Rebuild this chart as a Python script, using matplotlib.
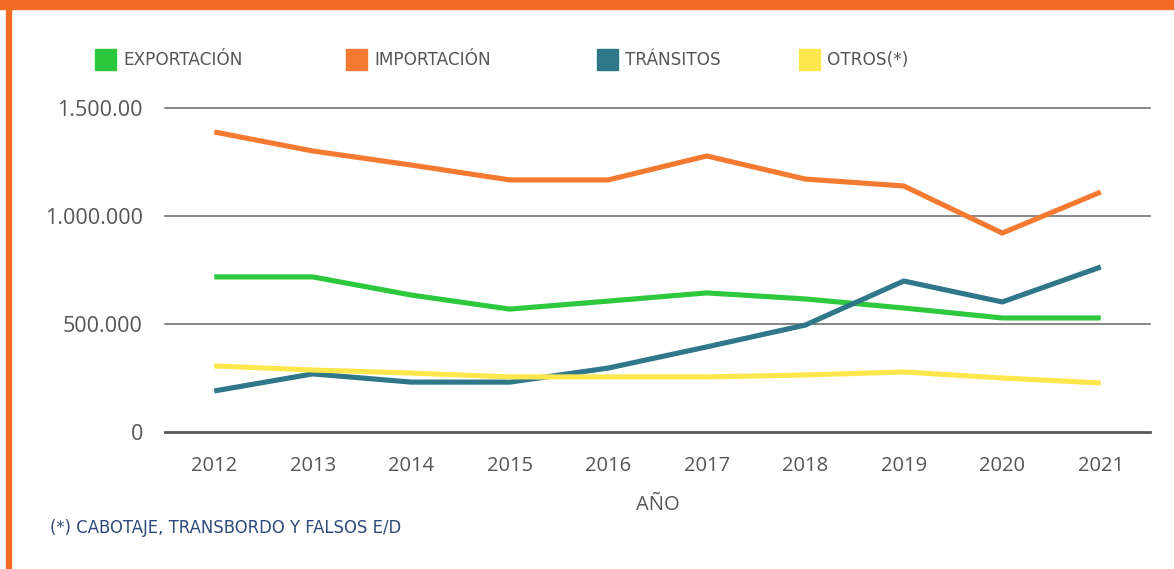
import matplotlib.pyplot as plt
from matplotlib.patches import Rectangle
from matplotlib.ticker import FixedLocator, FixedFormatter

plt.rcParams['font.family'] = ['Open Sans', 'DejaVu Sans']

years = ['2012', '2013', '2014', '2015', '2016', '2017', '2018', '2019', '2020', '2021']
exportacion = [718000, 718000, 634000, 569000, 606000, 644000, 616000, 574000, 528000, 528000]
importacion = [1389000, 1301000, 1236000, 1167000, 1167000, 1278000, 1171000, 1139000, 921000, 1111000]
transitos = [190000, 269000, 231000, 231000, 296000, 394000, 495000, 699000, 602000, 764000]
otros = [306000, 287000, 273000, 255000, 255000, 255000, 264000, 278000, 250000, 227000]

series_names = ['EXPORTACIÓN', 'IMPORTACIÓN', 'TRÁNSITOS', 'OTROS(*)']
colors = ['#2ec83f', '#f57a31', '#2e7889', '#fde74c']
ytick_vals = [0, 500000, 1000000, 1500000]
ytick_labels = ['0', '500.000', '1.000.000', '1.500.00']

W, H = 1174, 569
fig = plt.figure(figsize=(W / 100, H / 100), dpi=100)

# frame: orange banner on top and bar on the left
fig.patches.append(Rectangle((0, 1 - 9 / H), 1, 9 / H, transform=fig.transFigure,
                             color='#f36c25', zorder=0))
fig.patches.append(Rectangle((6 / W, 0), 5 / W, 1 - 9 / H, transform=fig.transFigure,
                             color='#f36c25', zorder=0))

ax = fig.add_axes([165 / W, 1 - 432 / H, (1150 - 165) / W, (432 - 108) / H])
x = list(range(len(years)))
for vals, c in zip([exportacion, importacion, transitos, otros], colors):
    ax.plot(x, vals, color=c, lw=3.7, solid_capstyle='butt', zorder=3)

ax.set_xlim(-0.5, len(years) - 0.5)
ax.set_ylim(0, 1500000)
ax.yaxis.set_major_locator(FixedLocator(ytick_vals))
ax.yaxis.set_major_formatter(FixedFormatter(ytick_labels))
ax.set_xticks(x)
ax.set_xticklabels(years)
ax.tick_params(length=0, labelsize=14.5, labelcolor='#555555')
ax.tick_params(axis='y', pad=16)
ax.tick_params(axis='x', pad=17)
for lbl in ax.get_yticklabels():
    lbl.set_fontsize(15.5)
for v in ytick_vals[1:]:
    ax.axhline(v, color='#666666', lw=1.1, zorder=1, clip_on=False)
ax.axhline(0, color='#5a5a5a', lw=2, zorder=1, clip_on=False)
for s in ax.spines.values():
    s.set_visible(False)

ax.set_xlabel('AÑO', fontsize=14.5, color='#555555', labelpad=14)

# legend drawn along the top
leg_x = [95, 346, 597, 799]
for lx, name, c in zip(leg_x, series_names, colors):
    fig.patches.append(Rectangle((lx / W, 1 - 70 / H), 21 / W, 21 / H,
                                 transform=fig.transFigure, color=c))
    fig.text((lx + 28) / W, 1 - 60 / H, name, fontsize=12.2, color='#555555',
             va='center', ha='left', family='DejaVu Sans')

fig.text(50 / W, 1 - 528 / H, '(*) CABOTAJE, TRANSBORDO Y FALSOS E/D', fontsize=11.9,
         color='#2d4a7c', va='center', ha='left', family='DejaVu Sans')

fig.savefig('out.png', dpi=100)
